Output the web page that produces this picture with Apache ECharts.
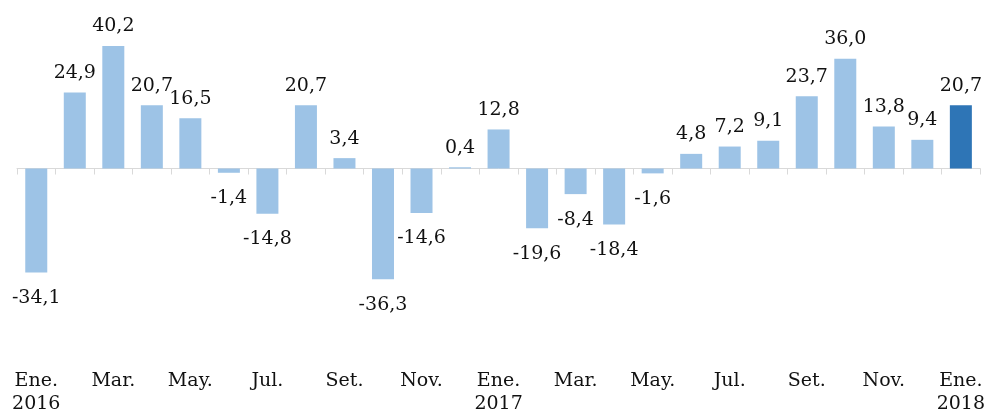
<!DOCTYPE html>
<html><head><meta charset="utf-8">
<script src="https://cdn.jsdelivr.net/npm/echarts@6/dist/echarts.min.js"></script>
<style>html,body{margin:0;padding:0;background:#fff}#c{width:988px;height:416px}</style>
</head><body><div id="c"></div>
<script>
const categories = ['Ene.\n2016','Feb.','Mar.','Abr.','May.','Jun.','Jul.','Ago.','Set.','Oct.','Nov.','Dic.',
  'Ene.\n2017','Feb.','Mar.','Abr.','May.','Jun.','Jul.','Ago.','Set.','Oct.','Nov.','Dic.','Ene.\n2018'];
const values = [-34.1,24.9,40.2,20.7,16.5,-1.4,-14.8,20.7,3.4,-36.3,-14.6,0.4,
  12.8,-19.6,-8.4,-18.4,-1.6,4.8,7.2,9.1,23.7,36.0,13.8,9.4,20.7];
const lightColor = '#9DC3E6', darkColor = '#2E75B6';
const font = 'DejaVu Serif';
const chart = echarts.init(document.getElementById('c'));
const data = values.map((v,i)=>({
  value: v,
  itemStyle: {color: i === values.length-1 ? darkColor : lightColor},
  label: {position: v >= 0 ? 'top' : 'bottom', distance: v >= 0 ? 10 : 16}
}));
chart.setOption({
  animation: false,
  grid: {left: 17, right: 6, top: 16, bottom: 95},
  xAxis: [{
    type: 'category', data: categories,
    axisLine: {onZero: true, lineStyle: {color: '#d9d9d9', width: 1}},
    axisTick: {show: true, interval: 0, length: 6, lineStyle: {color: '#d9d9d9'}},
    axisLabel: {show: false}
  },{
    type: 'category', data: categories, position: 'bottom',
    axisLine: {show: false}, axisTick: {show: false},
    axisLabel: {interval: 1, margin: 49, fontFamily: font, fontSize: 19, color: '#111', lineHeight: 23}
  }],
  yAxis: {type: 'value', min: -50, max: 50, show: false, splitLine: {show: false}},
  series: [{
    type: 'bar', xAxisIndex: 0, data: data, barWidth: 22,
    label: {show: true, fontFamily: font, fontSize: 19, color: '#111',
      formatter: p => p.value.toFixed(1).replace('.', ',')}
  }]
});
</script></body></html>
